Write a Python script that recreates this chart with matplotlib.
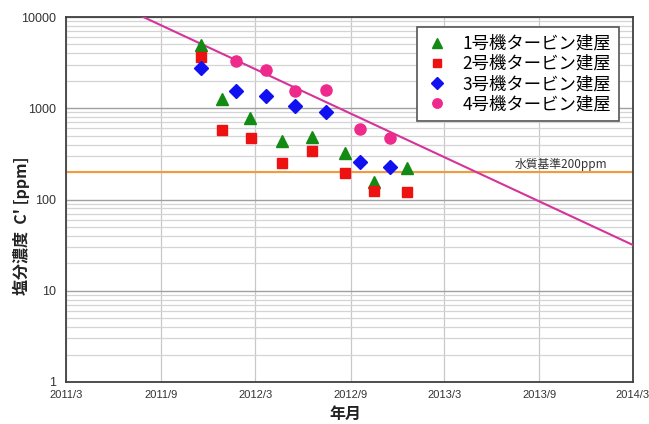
import matplotlib
matplotlib.use("Agg")
import matplotlib.pyplot as plt
import matplotlib.dates as mdates
from matplotlib.ticker import LogLocator, FixedLocator, NullFormatter
import numpy as np
from datetime import datetime

plt.rcParams['font.family'] = ['Noto Sans CJK JP', 'DejaVu Sans']

# Chloride concentration in turbine building water, by unit
unit1_dates = ['2011-11-16', '2011-12-28', '2012-02-19', '2012-04-22', '2012-06-18',
               '2012-08-22', '2012-10-16', '2012-12-20']
unit1_values = [4900, 1260, 780, 440, 490, 320, 157, 223]

unit2_dates = ['2011-11-16', '2011-12-28', '2012-02-22', '2012-04-22', '2012-06-18',
               '2012-08-22', '2012-10-16', '2012-12-20']
unit2_values = [3670, 580, 476, 253, 340, 194, 123, 122]

unit3_dates = ['2011-11-16', '2012-01-23', '2012-03-22', '2012-05-17', '2012-07-16',
               '2012-09-20', '2012-11-17']
unit3_values = [2740, 1560, 1370, 1070, 900, 260, 229]

unit4_dates = ['2012-01-23', '2012-03-22', '2012-05-16', '2012-07-16', '2012-09-20',
               '2012-11-17']
unit4_values = [3300, 2625, 1560, 1585, 588, 469]

# Exponential decay trend line
trend_dates = ['2011-03-01', '2014-03-01']
trend_values = [24800, 31.7]

# Water quality standard
standard_value = 200
standard_label = '水質基準200ppm'

legend_labels = ['1号機タービン建屋', '2号機タービン建屋', '3号機タービン建屋', '4号機タービン建屋']
x_tick_dates = ['2011-03-01', '2011-09-01', '2012-03-01', '2012-09-01',
                '2013-03-01', '2013-09-01', '2014-03-01']
x_tick_labels = ['2011/3', '2011/9', '2012/3', '2012/9', '2013/3', '2013/9', '2014/3']
y_ticks = [1, 10, 100, 1000, 10000]
y_tick_labels = ['1', '10', '100', '1000', '10000']


def to_dates(seq):
    return [datetime.strptime(s, '%Y-%m-%d') for s in seq]


fig = plt.figure(figsize=(6.49, 4.24), dpi=100)
ax = fig.add_axes([66 / 649, 1 - 382 / 424, (633 - 66) / 649, (382 - 17) / 424])

ax.set_yscale('log')
ax.set_ylim(1, 10000)
xt = mdates.date2num(to_dates(x_tick_dates))
ax.set_xlim(xt[0], xt[-1])

# grid
ax.set_xticks(xt)
ax.set_xticklabels(x_tick_labels)
ax.yaxis.set_major_locator(FixedLocator(y_ticks))
ax.set_yticklabels(y_tick_labels)
ax.yaxis.set_minor_locator(LogLocator(base=10, subs=np.arange(2, 10)))
ax.yaxis.set_minor_formatter(NullFormatter())
ax.grid(True, which='major', axis='x', color='#c8c8c8', linewidth=0.9)
ax.grid(True, which='major', axis='y', color='#a0a0a0', linewidth=1.0)
ax.grid(True, which='minor', axis='y', color='#d4d4d4', linewidth=0.9)
ax.set_axisbelow(True)

ax.tick_params(axis='both', which='both', length=0)
ax.tick_params(axis='x', labelsize=8, labelcolor='#333333', pad=6)
ax.tick_params(axis='y', labelsize=9, labelcolor='#333333', pad=7)
for lab in ax.get_xticklabels() + ax.get_yticklabels():
    lab.set_family(['Liberation Sans', 'DejaVu Sans'])

for sp in ax.spines.values():
    sp.set_color('#404040')
    sp.set_linewidth(1.3)

# water-quality standard
ax.axhline(standard_value, color='#f39a3c', linewidth=1.5, zorder=2)
ax.text(xt[-1] - 50, standard_value * 1.03, standard_label, ha='right', va='bottom',
        fontsize=8.5, color='#333333')

# trend line
ax.plot(to_dates(trend_dates), trend_values, color='#d6339a', linewidth=1.5, zorder=3)

# data points
h1, = ax.plot(to_dates(unit1_dates), unit1_values, linestyle='none', marker='^',
              markersize=9, color='#138a13', zorder=4)
h2, = ax.plot(to_dates(unit2_dates), unit2_values, linestyle='none', marker='s',
              markersize=6.5, color='#ee1111', zorder=4)
h3, = ax.plot(to_dates(unit3_dates), unit3_values, linestyle='none', marker='D',
              markersize=7.5, color='#1010f0', zorder=4)
h4, = ax.plot(to_dates(unit4_dates), unit4_values, linestyle='none', marker='o',
              markersize=8, color='#ee2a8c', zorder=4)

leg = ax.legend([h1, h2, h3, h4], legend_labels, loc='upper right',
                bbox_to_anchor=(0.975, 0.973), borderaxespad=0, fontsize=12.5,
                frameon=True, fancybox=False, edgecolor='#555555', framealpha=1,
                handletextpad=0.75, labelspacing=0.13, borderpad=0.45,
                markerscale=0.85, handlelength=1.4)
leg.get_frame().set_linewidth(1.2)

fig.text(345 / 649, 1 - 414 / 424, '年月', ha='center', va='center',
         fontsize=11.5, fontweight='bold', color='#222222')
fig.text(21 / 649, 1 - 226 / 424, "塩分濃度  C' [ppm]", ha='center', va='center',
         rotation=90, fontsize=11.5, fontweight='bold', color='#222222')

fig.savefig('out.png', dpi=100, facecolor='white')
